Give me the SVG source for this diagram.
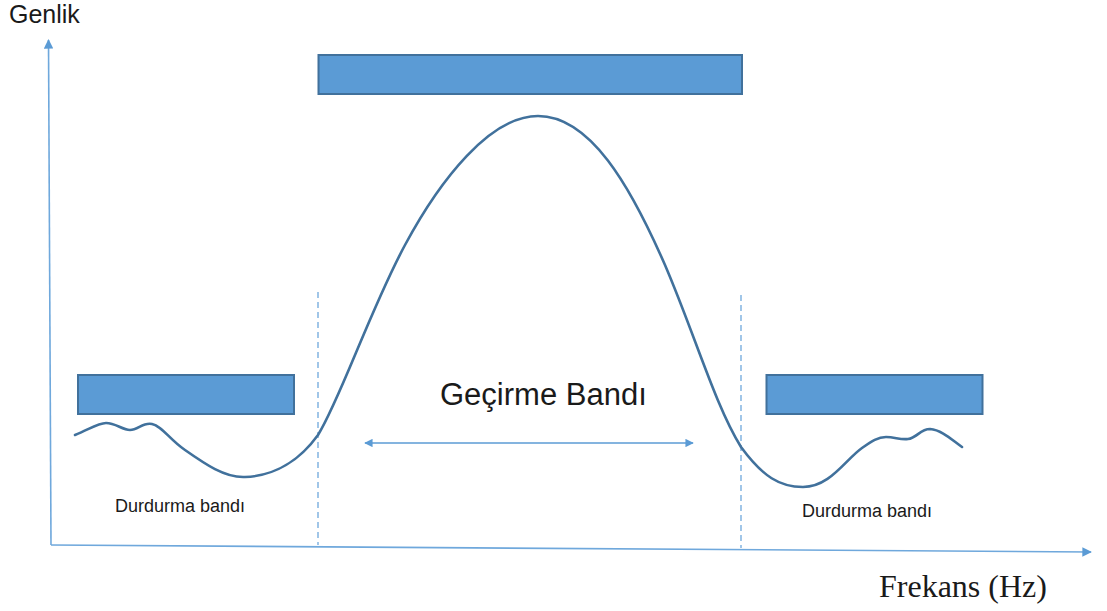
<svg xmlns="http://www.w3.org/2000/svg" width="1107" height="611" viewBox="0 0 1107 611">
<style>
.bar{fill:#5B9BD5;stroke:#41719C;stroke-width:2}
.axis{stroke:#6FA8DC;stroke-width:1.6;fill:none}
.dash{stroke:#6FA8DC;stroke-width:1.3;stroke-dasharray:6,4;fill:none}
.curve{stroke:#41719C;stroke-width:2.6;fill:none;stroke-linecap:round;stroke-linejoin:round}
.sans{font-family:"Liberation Sans",Arial,sans-serif;fill:#1a1a1a}
.serif{font-family:"Liberation Serif","Times New Roman",serif;fill:#1a1a1a}
</style>
<defs>
<marker id="ah" viewBox="0 0 10 10" refX="9" refY="5" markerWidth="6" markerHeight="6" orient="auto-start-reverse">
<path d="M0,0 L10,5 L0,10 z" fill="#5B9BD5"/>
</marker>
<marker id="ax" viewBox="0 0 10 10" refX="9" refY="5" markerWidth="6" markerHeight="6" orient="auto">
<path d="M0,0 L10,5 L0,10 z" fill="#5B9BD5"/>
</marker>
</defs>
<g id="connectors">
<line class="axis" x1="51" y1="545" x2="48.5" y2="40" marker-end="url(#ax)"/>
<line class="axis" x1="51" y1="545" x2="1091" y2="552" marker-end="url(#ax)"/>
<line class="dash" x1="318" y1="292" x2="318" y2="545"/>
<line class="dash" x1="741" y1="295" x2="741" y2="548"/>
<line stroke="#5B9BD5" stroke-width="1.4" x1="365" y1="443" x2="693" y2="443" marker-start="url(#ah)" marker-end="url(#ah)"/>
<path class="curve" d="M75,435 C88,430 98,423 106,423 C116,423 122,430 130,430 C138,430 143,422 152,424 C162,426 170,440 185,450 C205,464 225,478 245,477 C275,476 300,460 318,435 C340,400 370,310 405,245 C440,180 490,116 538,116 C590,116 630,185 665,265 C695,335 715,405 741,447 C763,477 780,487 803,487 C830,487 845,460 862,448 C872,441 878,437 886,437 C895,437 900,440 908,439 C917,438 920,429 930,429 C942,430 952,440 962,447"/>
</g>
<g id="bar-top"><rect class="bar" x="318.5" y="55" width="423.5" height="39"/></g>
<g id="bar-left"><rect class="bar" x="78" y="375" width="216" height="39"/></g>
<g id="bar-right"><rect class="bar" x="766.5" y="375" width="216" height="39"/></g>
<g id="label-genlik"><text class="sans" x="9" y="23" font-size="25">Genlik</text></g>
<g id="label-frekans"><text class="serif" x="879" y="597" font-size="32">Frekans (Hz)</text></g>
<g id="label-gecirme"><text class="sans" x="440" y="405" font-size="31">Geçirme Bandı</text></g>
<g id="label-durdurma-left"><text class="sans" x="115" y="512" font-size="18">Durdurma bandı</text></g>
<g id="label-durdurma-right"><text class="sans" x="802" y="517" font-size="18">Durdurma bandı</text></g>
</svg>
